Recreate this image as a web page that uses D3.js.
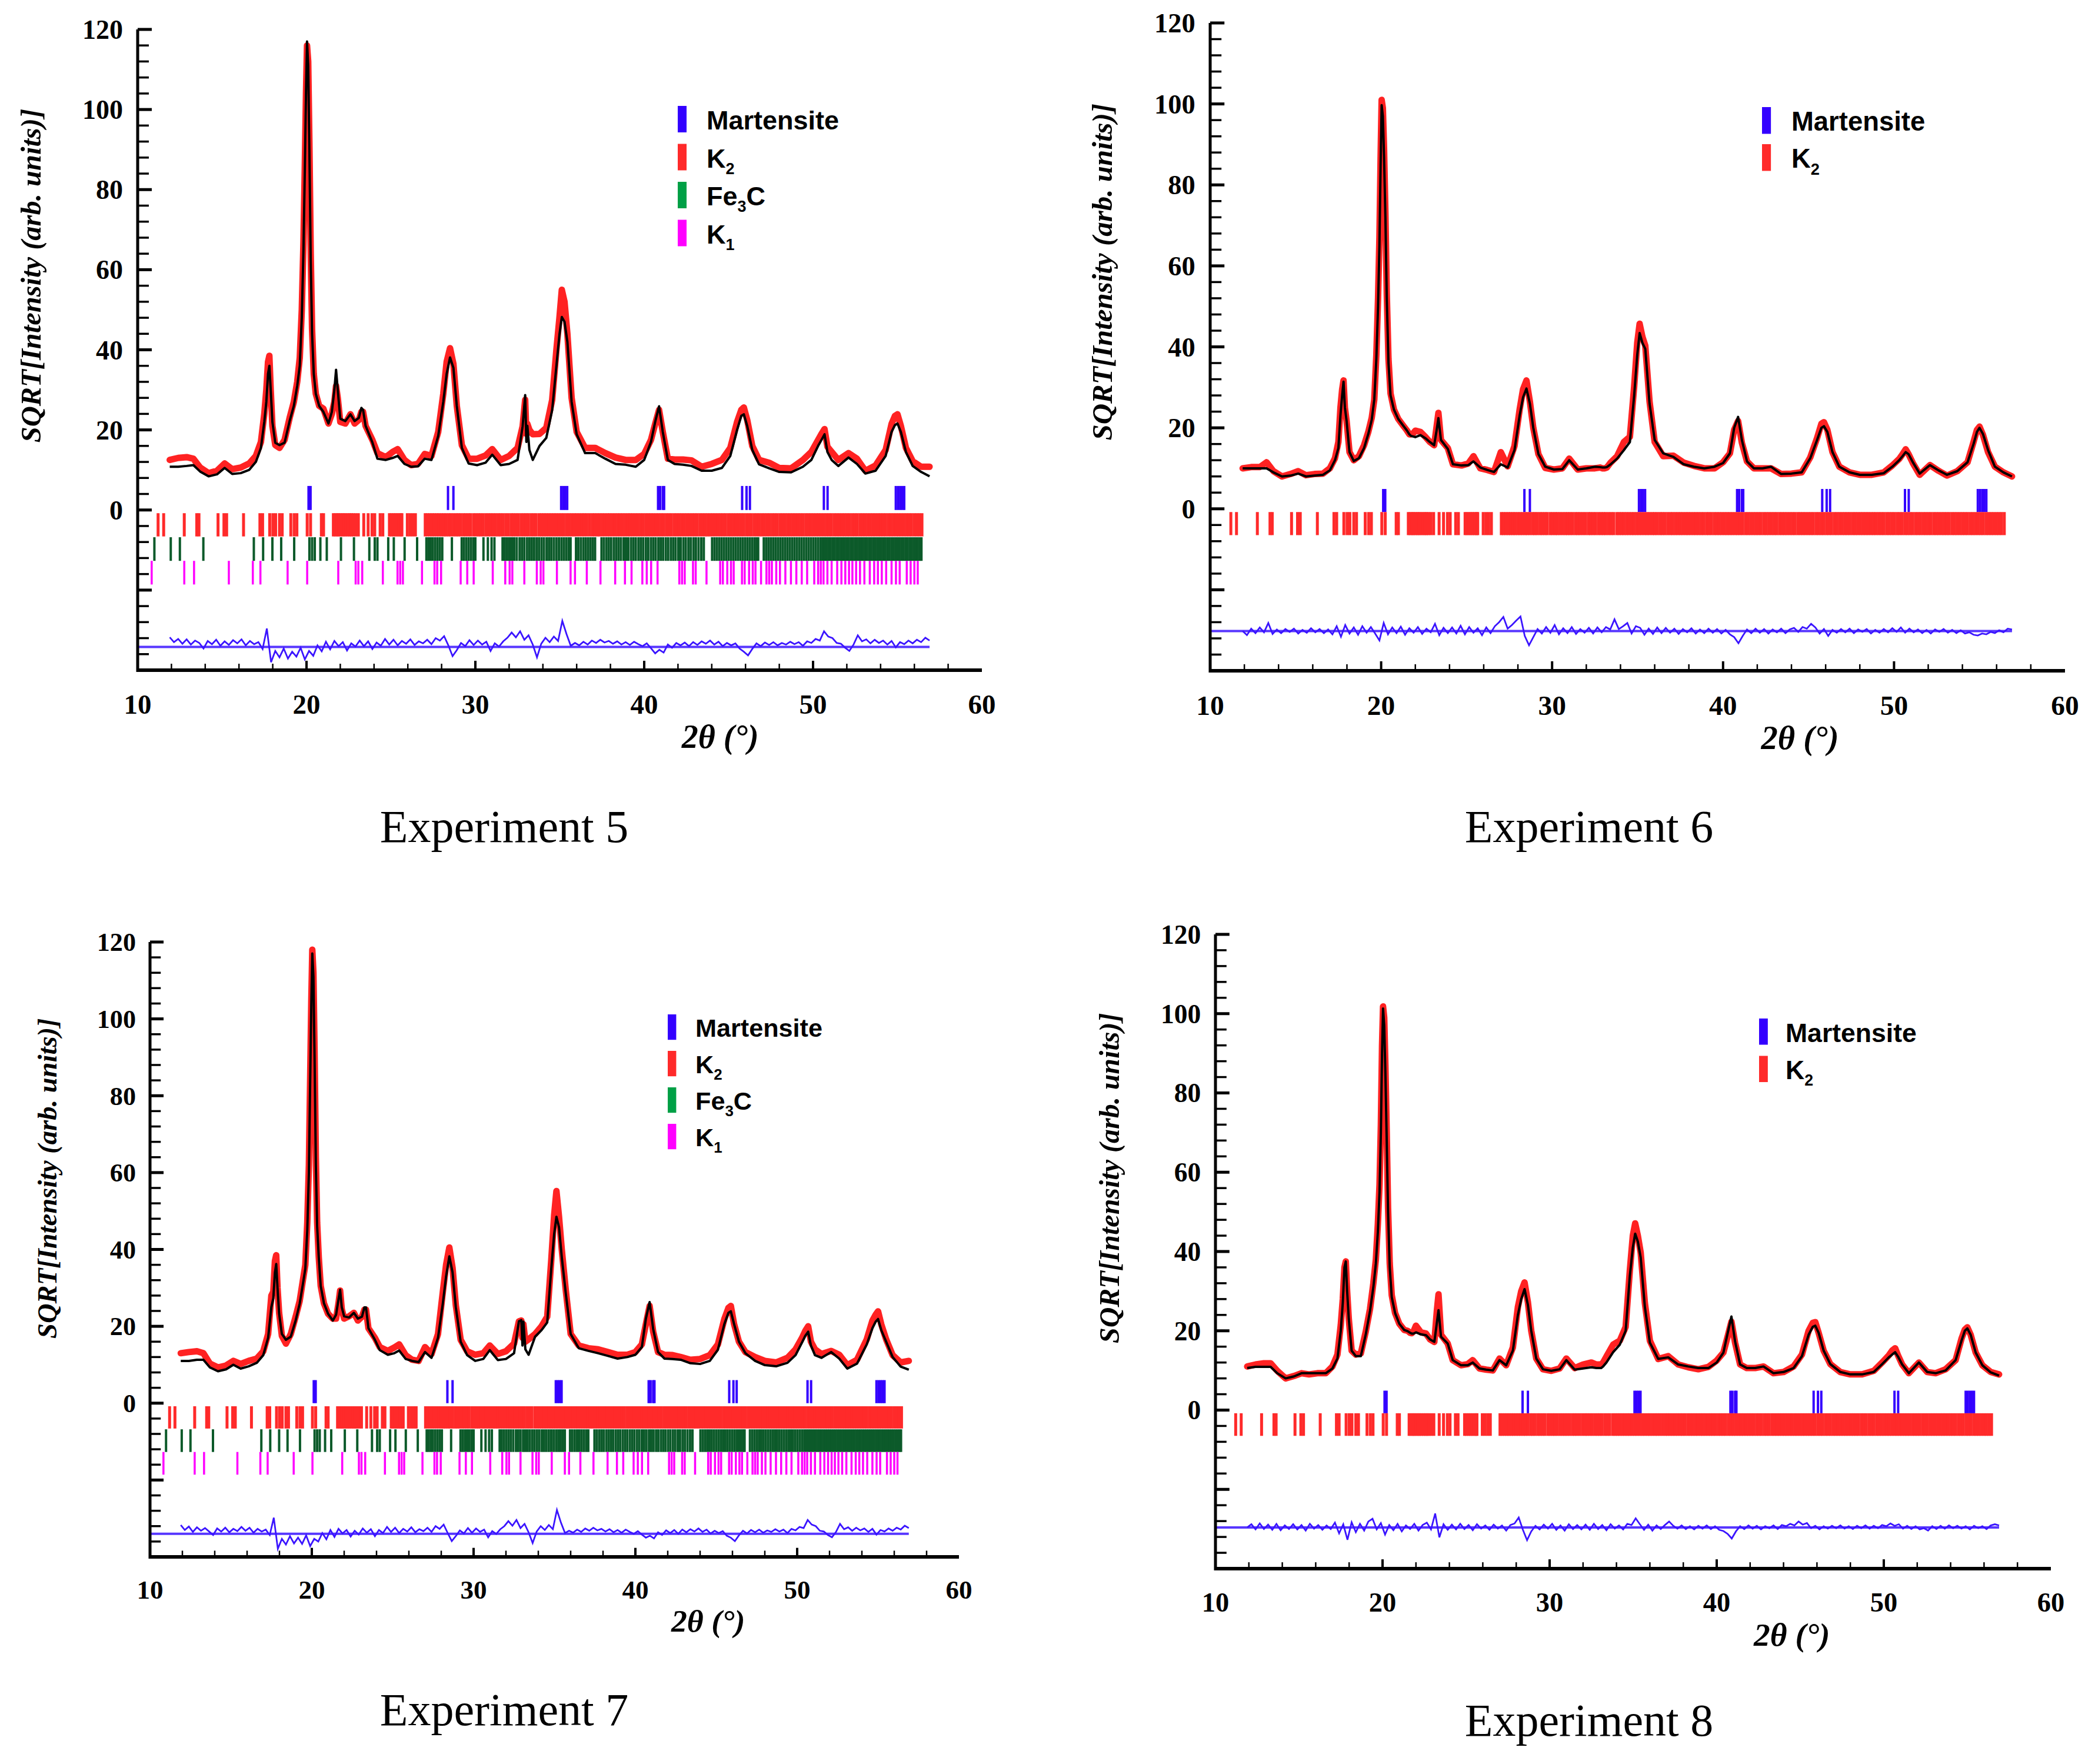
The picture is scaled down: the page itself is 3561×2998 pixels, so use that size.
<!DOCTYPE html>
<html>
<head>
<meta charset="utf-8">
<script src="https://cdn.jsdelivr.net/npm/d3@7"></script>
<style>
  body { margin: 0; background: #fff; }
  text { font-family: "Liberation Serif", "Times New Roman", serif; }
</style>
</head>
<body>
<svg id="fig"></svg>
<script>
// 2theta grid shared by the observed / calculated profiles
const twoTheta = [
  11.9, 12.4, 12.9, 13.3, 13.7, 14.2, 14.7, 15.15, 15.6, 16.1,
  16.6, 17.0, 17.3, 17.5, 17.62, 17.72, 17.8, 17.88, 17.98, 18.15,
  18.4, 18.7, 19.0, 19.25, 19.45, 19.6, 19.72, 19.82, 19.9, 19.97,
  20.03, 20.1, 20.17, 20.25, 20.33, 20.43, 20.55, 20.75, 21.0, 21.3,
  21.5, 21.65, 21.75, 21.85, 22.0, 22.3, 22.6, 22.85, 23.1, 23.25,
  23.35, 23.5, 23.9, 24.2, 24.7, 25.1, 25.4, 25.8, 26.2, 26.6,
  27.0, 27.4, 27.8, 28.1, 28.3, 28.5, 28.7, 28.9, 29.2, 29.6,
  30.1, 30.6, 31.0, 31.5, 32.0, 32.5, 32.8, 32.95, 33.02, 33.08,
  33.2, 33.4, 33.8, 34.2, 34.55, 34.8, 34.98, 35.12, 35.28, 35.45,
  35.7, 36.0, 36.5, 37.1, 37.7, 38.3, 38.9, 39.5, 40.0, 40.4,
  40.65, 40.88, 41.1, 41.4, 41.8, 42.3, 42.8, 43.4, 44.0, 44.6,
  45.1, 45.5, 45.75, 45.9, 46.1, 46.4, 46.8, 47.4, 48.0, 48.7,
  49.4, 49.9, 50.3, 50.5, 50.68, 50.85, 51.1, 51.5, 52.1, 52.6,
  53.1, 53.7, 54.3, 54.65, 54.85, 55.0, 55.2, 55.5, 55.9, 56.4,
  56.9
];

// Experiment 5
const calcExp5 = [
  10.8, 10.8, 11.0, 11.2, 9.6, 8.4, 8.9, 10.5, 9.0, 9.2,
  10.0, 12.0, 15.5, 22.0, 27.0, 34.0, 36.0, 30.0, 22.0, 16.8,
  16.2, 16.8, 22.2, 26.0, 31.0, 36.0, 48.0, 65.0, 85.0, 104.0,
  117.0, 111.0, 90.0, 62.0, 44.0, 34.0, 29.0, 26.0, 24.5, 21.6,
  24.5, 30.0, 35.0, 30.0, 22.8, 22.2, 23.9, 22.2, 23.0, 25.5,
  25.0, 21.0, 16.9, 12.8, 12.5, 13.0, 13.5, 11.5, 10.8, 10.9,
  12.8, 12.5, 18.5, 27.0, 34.0, 38.1, 35.5, 26.0, 15.5, 11.6,
  11.2, 11.8, 13.8, 11.2, 11.5, 12.5, 20.9, 28.7, 17.0, 21.0,
  15.0, 12.5, 16.0, 18.0, 25.0, 36.0, 43.8, 48.2, 47.0, 42.0,
  27.0, 18.9, 14.2, 14.2, 12.8, 11.5, 11.3, 10.8, 12.5, 17.0,
  22.0, 25.9, 19.5, 12.5, 11.5, 11.3, 11.0, 9.8, 9.8, 10.5,
  13.5, 20.0, 23.5, 23.9, 21.0, 15.0, 11.4, 10.4, 9.5, 9.4,
  10.8, 12.5, 16.0, 17.5, 18.9, 14.5, 12.5, 11.0, 13.1, 11.5,
  9.1, 9.8, 13.5, 19.5, 21.2, 21.6, 19.5, 14.5, 11.0, 9.5,
  8.4
];
const obsExp5 = [
  12.5, 13.0, 13.2, 12.8, 10.6, 9.2, 9.8, 11.6, 10.2, 10.6,
  11.6, 13.5, 17.0, 24.0, 30.0, 37.0, 38.5, 30.0, 21.0, 16.2,
  15.5, 17.5, 23.0, 27.0, 32.0, 38.0, 50.0, 67.0, 86.0, 104.0,
  116.0, 112.0, 92.0, 64.0, 45.0, 34.0, 29.0, 26.0, 25.3, 21.6,
  24.0, 27.0, 31.0, 28.0, 22.0, 21.6, 23.9, 21.6, 22.5, 24.5,
  24.5, 21.0, 17.5, 14.2, 13.2, 14.5, 15.2, 12.5, 11.2, 11.5,
  14.0, 13.5, 19.5, 29.0, 37.0, 40.4, 36.5, 26.0, 16.2, 12.8,
  12.8, 13.6, 15.2, 12.5, 13.5, 15.5, 20.9, 27.5, 19.0, 21.5,
  20.0, 18.9, 19.0, 20.5, 27.5, 40.0, 48.0, 55.0, 52.0, 44.0,
  28.0, 19.5, 15.5, 15.5, 14.2, 13.1, 12.5, 12.5, 14.0, 17.5,
  21.5, 25.0, 19.5, 12.8, 12.6, 12.6, 12.4, 10.8, 11.5, 12.5,
  15.5, 22.0, 25.0, 25.6, 22.5, 16.0, 12.5, 11.8, 10.5, 10.4,
  12.5, 14.5, 17.5, 19.0, 20.2, 15.8, 14.5, 12.5, 14.2, 12.8,
  9.8, 11.1, 15.0, 21.5, 23.5, 23.9, 21.0, 15.5, 12.2, 10.8,
  10.8
];

// Experiment 6
const calcExp6 = [
  10.0, 10.0, 10.0, 10.0, 9.0, 8.0, 8.2, 8.7, 8.0, 8.2,
  8.4, 9.5, 12.0, 15.0, 23.0, 28.0, 31.4, 25.0, 21.7, 14.0,
  11.8, 12.5, 15.0, 18.5, 22.0, 27.0, 37.0, 50.0, 65.0, 85.0,
  99.7, 97.0, 87.0, 72.0, 52.0, 36.0, 28.0, 24.5, 22.2, 20.5,
  19.4, 18.4, 18.0, 17.9, 17.7, 18.2, 17.4, 16.5, 15.7, 19.5,
  22.4, 17.0, 14.8, 11.0, 10.7, 10.8, 11.7, 10.2, 9.6, 9.1,
  11.0, 10.2, 14.5, 23.0, 27.5, 29.7, 26.0, 20.0, 13.5, 10.4,
  9.7, 9.8, 12.0, 9.7, 10.0, 10.4, 10.3, 10.2, 10.2, 10.2,
  10.3, 10.9, 12.4, 14.5, 16.5, 28.0, 38.0, 43.4, 41.0, 39.5,
  26.0, 17.0, 13.7, 12.8, 11.0, 10.4, 10.0, 10.4, 11.3, 13.7,
  20.0, 22.7, 17.0, 11.7, 10.0, 10.0, 10.4, 8.6, 8.7, 9.0,
  12.5, 17.0, 20.0, 20.4, 19.0, 14.0, 10.4, 9.0, 8.4, 8.4,
  8.8, 10.4, 12.0, 13.0, 14.0, 13.5, 11.5, 8.7, 10.8, 9.5,
  8.4, 9.3, 11.5, 16.0, 19.0, 20.0, 18.5, 14.5, 10.4, 9.0,
  8.0
];
const obsExp6 = [
  10.0, 10.3, 10.3, 11.5, 9.3, 8.0, 8.6, 9.3, 8.3, 8.6,
  8.7, 10.0, 12.5, 16.5, 25.0, 29.5, 31.7, 25.0, 21.7, 14.0,
  12.0, 13.0, 15.7, 19.0, 22.5, 27.0, 38.0, 52.0, 67.0, 87.0,
  101.0, 99.0, 89.0, 73.0, 53.0, 37.0, 28.5, 24.5, 22.2, 20.5,
  19.4, 18.4, 18.4, 18.5, 19.3, 19.0, 17.7, 16.5, 15.7, 20.5,
  23.7, 17.0, 15.0, 11.0, 10.7, 11.2, 13.0, 10.0, 9.6, 9.1,
  14.0, 10.5, 15.5, 24.5, 29.5, 31.7, 26.5, 20.0, 13.5, 10.1,
  9.7, 10.0, 12.4, 9.7, 10.0, 10.0, 10.2, 10.0, 10.0, 10.0,
  10.2, 11.3, 13.0, 16.5, 17.8, 30.2, 41.0, 45.7, 42.5, 40.3,
  26.5, 16.5, 13.0, 13.1, 11.4, 10.6, 10.0, 10.0, 11.5, 13.7,
  19.5, 21.7, 16.3, 11.7, 10.0, 10.0, 10.0, 8.6, 8.7, 9.0,
  12.7, 17.5, 21.0, 21.4, 19.5, 14.0, 10.4, 9.0, 8.4, 8.4,
  9.0, 10.7, 12.3, 13.5, 14.7, 13.5, 11.3, 8.4, 10.8, 9.4,
  8.2, 9.3, 11.5, 16.5, 19.5, 20.3, 18.3, 14.0, 10.4, 9.0,
  8.0
];

// Experiment 7
const calcExp7 = [
  11.0, 11.0, 11.3, 11.3, 9.3, 8.3, 8.8, 10.0, 9.0, 9.6,
  10.5, 12.5, 17.0, 25.0, 27.3, 34.0, 36.2, 30.0, 23.3, 18.0,
  16.5, 17.3, 21.5, 25.9, 31.0, 35.0, 45.0, 60.0, 84.0, 104.0,
  117.0, 111.0, 90.0, 62.0, 46.0, 38.0, 30.5, 26.0, 23.3, 21.5,
  23.0, 27.0, 29.5, 25.0, 22.6, 22.3, 23.5, 22.0, 22.5, 24.9,
  24.9, 19.5, 16.5, 13.8, 12.6, 13.0, 13.7, 11.5, 11.0, 10.7,
  13.3, 11.8, 17.0, 26.0, 33.0, 38.2, 34.0, 25.0, 16.0, 12.5,
  11.0, 11.5, 13.8, 11.2, 11.5, 13.0, 21.3, 21.6, 15.0, 21.2,
  14.0, 12.6, 17.3, 19.0, 21.0, 34.9, 44.0, 48.5, 45.8, 38.0,
  28.5, 18.0, 14.3, 13.6, 13.0, 12.3, 11.6, 12.0, 12.6, 14.6,
  22.0, 26.3, 19.3, 13.3, 11.6, 11.5, 11.3, 10.4, 10.2, 11.0,
  13.9, 20.6, 23.5, 23.9, 20.6, 16.0, 13.0, 11.0, 9.9, 9.6,
  10.5, 12.5, 15.8, 17.5, 18.6, 15.0, 12.5, 11.8, 13.3, 11.6,
  9.0, 10.3, 15.3, 19.5, 21.2, 21.9, 19.0, 16.0, 12.0, 9.5,
  8.7
];
const obsExp7 = [
  13.0, 13.3, 13.5, 13.0, 10.3, 9.3, 9.8, 11.0, 10.2, 11.0,
  11.6, 13.5, 18.0, 28.0, 29.0, 37.0, 38.5, 30.0, 23.5, 17.5,
  15.5, 18.0, 22.5, 26.6, 32.0, 36.0, 47.0, 62.0, 85.0, 105.0,
  118.0, 112.0, 92.0, 64.0, 47.0, 38.0, 30.5, 26.0, 23.3, 22.0,
  22.0, 26.0, 29.3, 24.5, 22.0, 22.6, 23.5, 21.5, 22.5, 24.3,
  24.3, 19.5, 17.0, 14.6, 13.6, 14.5, 15.3, 12.5, 11.3, 11.0,
  14.6, 12.8, 18.0, 29.0, 36.0, 40.5, 35.2, 25.5, 16.5, 13.5,
  12.6, 13.0, 15.0, 12.8, 13.5, 15.5, 21.3, 21.5, 17.0, 20.5,
  16.0, 16.6, 18.0, 20.0, 22.5, 37.2, 49.0, 55.2, 48.5, 40.0,
  29.3, 18.0, 15.0, 14.3, 14.0, 13.3, 12.6, 12.6, 13.3, 15.3,
  20.6, 25.3, 18.6, 13.3, 12.6, 12.5, 12.0, 11.3, 11.5, 12.5,
  15.3, 21.9, 24.8, 25.3, 20.6, 16.0, 13.3, 12.0, 11.0, 10.6,
  11.8, 14.0, 17.0, 18.8, 20.0, 16.0, 14.0, 12.8, 13.6, 12.6,
  9.9, 11.3, 16.6, 21.5, 23.0, 23.9, 20.5, 16.6, 12.5, 10.6,
  11.0
];

// Experiment 8
const calcExp8 = [
  10.6, 10.9, 10.9, 10.9, 9.3, 8.0, 8.5, 9.3, 9.3, 9.3,
  9.3, 10.5, 13.0, 20.0, 27.0, 36.0, 37.5, 30.0, 23.0, 15.0,
  13.6, 13.6, 19.2, 25.0, 31.0, 37.0, 45.0, 55.0, 70.0, 90.0,
  101.3, 97.0, 85.0, 68.0, 50.0, 36.0, 28.5, 24.5, 21.8, 20.2,
  19.9, 19.5, 19.3, 19.3, 19.6, 19.1, 18.9, 17.8, 17.2, 22.0,
  25.2, 18.5, 16.8, 12.6, 11.3, 11.3, 12.0, 10.5, 10.2, 10.0,
  12.6, 11.3, 15.0, 24.0, 28.0, 30.5, 26.5, 20.0, 13.0, 10.3,
  9.9, 10.3, 12.6, 10.2, 10.5, 10.8, 10.6, 10.6, 10.6, 10.6,
  11.0, 12.0, 14.6, 16.5, 20.0, 33.8, 41.0, 44.5, 42.5, 38.5,
  26.0, 17.0, 12.9, 13.3, 11.5, 11.0, 10.6, 10.6, 12.0, 14.5,
  19.3, 23.6, 17.3, 11.5, 10.6, 10.6, 11.0, 9.3, 9.6, 10.6,
  13.6, 19.0, 21.0, 21.3, 19.5, 15.0, 11.6, 9.6, 9.0, 9.0,
  9.6, 11.6, 13.3, 14.0, 14.6, 13.5, 11.5, 9.3, 12.0, 9.6,
  9.3, 10.0, 12.6, 17.5, 20.0, 20.6, 19.0, 14.5, 11.3, 9.5,
  8.7
];
const obsExp8 = [
  11.0, 11.5, 11.8, 11.8, 9.9, 8.0, 8.6, 9.3, 9.0, 9.3,
  9.3, 11.0, 14.0, 21.5, 28.0, 36.0, 37.5, 30.0, 23.0, 15.0,
  14.0, 14.3, 19.9, 25.5, 32.0, 38.0, 47.0, 57.0, 72.0, 92.0,
  101.8, 99.0, 87.0, 70.0, 51.0, 37.0, 29.0, 24.5, 21.8, 20.2,
  20.0, 19.5, 19.4, 19.8, 21.3, 19.6, 19.3, 17.8, 17.2, 25.0,
  29.2, 19.0, 16.8, 12.6, 11.3, 11.6, 12.6, 10.5, 10.2, 10.0,
  13.0, 11.3, 15.8, 26.0, 30.0, 32.2, 27.2, 20.0, 13.0, 10.3,
  9.9, 10.5, 13.0, 10.6, 11.5, 12.0, 11.5, 11.5, 11.5, 11.5,
  12.0, 13.5, 16.5, 17.5, 21.0, 35.2, 44.0, 47.1, 44.0, 39.7,
  27.0, 17.5, 12.9, 13.6, 11.5, 10.8, 10.3, 10.9, 12.5, 14.5,
  18.5, 22.3, 17.0, 11.5, 10.6, 10.6, 11.0, 9.3, 9.6, 11.0,
  14.0, 20.0, 22.0, 22.2, 19.5, 15.0, 11.6, 9.6, 9.0, 9.0,
  9.9, 12.0, 13.8, 15.0, 15.6, 13.8, 11.5, 9.3, 12.0, 9.6,
  9.3, 10.3, 12.6, 18.0, 20.3, 20.9, 19.0, 14.5, 11.3, 9.6,
  9.0
];

// difference curves (obs - calc), sampled every 0.25 deg from 11.9 deg
const diffStart = 11.9, diffStep = 0.25;
const diffExp5 = [
  2.4, 1.2, 2.0, 0.8, 1.9, 0.6, 1.6, 1.0, -0.4, 1.5,
  0.7, 1.8, 0.3, 1.4, 0.5, 1.7, 0.9, 1.9, 0.4, 1.5,
  0.7, 1.2, -0.5, 4.6, -3.8, -1.0, -2.6, -0.4, -2.9, -1.2,
  -2.4, -0.2, -3.1, -1.0, -2.2, 0.4, -1.1, 1.3, -0.6, 1.5,
  0.2, 1.2, -0.9, 0.9, 0.1, 1.6, 0.2, 1.4, -0.5, 1.1,
  0.3, 2.0, 0.6, 1.8, 0.4, 1.5, 0.8, 1.9, 0.5, 1.4,
  0.9, 1.8, 0.7, 2.2, 1.6, 2.7, 0.4, -2.3, -0.8, 1.0,
  0.2, 1.7, 0.5, 1.6, 0.6, 1.3, -1.0, 0.9, 0.1, 1.4,
  2.3, 3.6, 2.4, 3.9, 1.8, 2.9, 0.6, -2.6, 0.8, 2.3,
  1.2, 2.6, 1.5, 6.5, 3.2, 0.3, 1.0, 0.4, 1.3, 0.6,
  1.6, 1.0, 1.8, 1.1, 1.5, 0.8, 1.4, 0.6, 1.2, 0.5,
  1.3, 0.7, 0.2, 0.9, -0.3, -1.6, -0.7, -1.4, 0.6, -0.2,
  1.0, 0.4, 1.1, 0.2, 1.2, 0.5, 1.4, 0.8, 1.6, 0.6,
  1.3, 0.2, 1.0, 0.4, 0.9, -0.4, -1.2, -2.1, -0.5, 0.9,
  0.2, 1.1, 0.5, 1.2, 0.4, 1.0, 0.6, 1.3, 0.7, 1.2,
  0.3, 1.4, 1.0, 2.0, 1.6, 3.9, 2.6, 2.2, 1.0, 0.8,
  -0.2, -1.0, 0.6, 2.9, 1.4, 1.9, 0.9, 1.8, 1.0, 1.6,
  0.6, 1.5, -0.1, 1.2, 0.7, 1.6, 0.9, 1.8, 1.2, 2.3,
  1.6
];
const diffExp6 = [
  0.0, -1.0, 0.6, -0.5, 0.9, -0.3, 2.0, -0.7, 0.4, -0.5,
  0.5, -0.2, 0.6, -0.6, 0.3, -0.4, 0.7, -0.3, 0.5, -0.5,
  0.4, -0.8, 1.2, -1.4, 1.5, -0.6, 0.9, -0.9, 1.2, -0.4,
  1.0, -0.6, -2.3, 2.0, -0.8, 0.9, -0.5, 1.1, -0.9, 0.7,
  -0.4, 1.0, -0.7, 0.6, -0.3, 1.8, -1.0, 0.8, -0.5, 0.9,
  -0.6, 1.3, -0.8, 1.0, -0.4, 0.7, -1.0, 0.9, -0.5, 1.2,
  2.2, 3.5, 0.6, 1.5, 2.6, 3.6, -1.2, -3.5, -1.5, 0.5,
  -0.6, 1.0, -0.4, 1.5, -0.8, 0.7, -0.5, 1.0, -0.7, 0.5,
  -0.4, 0.8, -0.6, 0.9, -0.3, 1.0, 0.4, 2.9, 0.5, 1.2,
  2.0, -0.6, 1.2, 0.8, -0.9, 0.6, -0.7, 0.9, -0.5, 0.8,
  -0.4, 0.6, -0.7, 0.5, -0.3, 0.7, -0.6, 0.4, -0.5, 0.6,
  -0.4, 0.5, -0.6, 0.3, -0.8, -1.5, -3.0, -1.2, 0.4, -0.5,
  0.6, -0.4, 0.5, -0.6, 0.4, -0.3, 0.6, -0.5, 0.4, 0.8,
  -0.2, 1.0, 0.6, 1.8, 0.9, -0.6, 0.5, -1.2, 0.3, -0.4,
  0.5, -0.3, 0.6, -0.5, 0.4, -0.2, 0.5, -0.6, 0.3, -0.4,
  0.5, -0.3, 0.7, -0.2, 0.9, -0.4, 0.6, -0.3, 0.4, -0.5,
  0.3, -0.6, 0.4, -0.2, 0.5, -0.4, 0.3, -0.5, 0.2, -0.6,
  -0.3, -0.9, -1.1, -0.6, -0.8, -0.2, -0.5, 0.2, -0.3, 0.6,
  0.4
];
const diffExp7 = [
  2.3, 1.0, 1.9, 0.5, 1.7, 0.8, 1.5, 0.6, -0.3, 1.4,
  0.6, 1.6, 0.4, 1.3, 0.7, 1.8, 0.8, 1.6, 0.3, 1.3,
  0.6, 1.1, -0.3, 4.2, -3.9, -1.3, -2.8, -0.6, -2.5, -1.0,
  -2.6, -0.4, -3.2, -1.3, -2.0, 0.2, -1.4, 1.0, -0.8, 1.3,
  0.1, 1.0, -0.7, 0.8, -0.2, 1.4, 0.3, 1.2, -0.6, 1.0,
  0.2, 1.8, 0.5, 1.6, 0.2, 1.3, 0.6, 1.7, 0.4, 1.2,
  0.7, 1.6, 0.5, 2.0, 1.3, 2.4, 0.2, -1.9, -0.6, 0.9,
  0.1, 1.5, 0.3, 1.4, 0.5, 1.1, -0.9, 0.7, 0.0, 1.2,
  2.0, 3.3, 2.1, 3.6, 1.5, 2.6, 0.4, -2.4, 0.6, 2.0,
  1.0, 2.3, 1.2, 6.2, 2.9, 0.2, 0.8, 0.3, 1.1, 0.5,
  1.4, 0.8, 1.6, 0.9, 1.3, 0.6, 1.2, 0.4, 1.0, 0.3,
  1.1, 0.5, 0.0, 0.7, -0.2, -1.0, -0.5, -1.2, 0.4, -0.3,
  0.9, 0.2, 1.0, 0.0, 1.1, 0.4, 1.2, 0.6, 1.4, 0.5,
  1.1, 0.1, 0.8, 0.2, 0.7, -0.5, -1.0, -1.9, -0.4, 0.8,
  0.1, 1.0, 0.4, 1.1, 0.3, 0.9, 0.5, 1.2, 0.6, 1.1,
  0.2, 1.3, 0.9, 1.8, 1.5, 3.6, 2.4, 2.0, 0.8, 0.6,
  -0.3, -0.9, 0.5, 2.6, 1.2, 1.7, 0.8, 1.6, 0.9, 1.4,
  0.5, 1.3, -0.2, 1.0, 0.6, 1.4, 0.8, 1.6, 1.1, 2.1,
  1.5
];
const diffExp8 = [
  0.0, 0.8, -0.5, 1.0, -0.4, 0.7, -0.6, 0.9, -0.7, 0.5,
  -0.4, 0.8, -0.5, 0.6, -0.8, 0.9, -0.3, 0.6, -0.6, 0.5,
  -0.4, 1.2, -1.5, 0.8, -3.1, 1.3, -1.2, 0.9, -0.8, 1.5,
  2.2, -0.5, 1.1, -1.8, 0.6, -0.7, 0.9, -1.0, 0.5, -0.4,
  0.9, -0.8, 0.6, 1.2, -0.5, 3.5, -2.5, 0.8, -0.6, 0.7,
  -0.5, 0.9, -0.4, 0.6, -0.7, 0.8, -0.3, 0.5, -0.6, 0.7,
  -0.3, 0.5, -0.8, 0.6, 1.0, 2.5, -0.6, -3.2, -1.0, 0.4,
  -0.5, 0.7, -0.3, 0.9, -0.6, 0.5, -0.8, 0.8, -0.4, 0.6,
  -0.5, 0.7, -0.6, 0.9, -0.4, 0.6, -0.7, 0.8, -0.3, 0.5,
  -0.5, 0.9, 0.6, 2.3, 0.8, -0.6, 0.7, -0.8, 0.5, -0.4,
  0.6, 1.5, 0.4, -0.3, 0.5, -0.4, 0.3, -0.5, 0.4, -0.3,
  0.5, -0.4, 0.3, -0.6, -0.9, -1.6, -2.8, -1.0, 0.3, -0.4,
  0.5, -0.3, 0.4, -0.5, 0.3, -0.2, 0.5, -0.4, 0.6, 0.3,
  0.9, 0.5, 1.5, 0.7, 1.1, -0.2, 0.4, -0.5, 0.3, -0.3,
  0.4, -0.2, 0.5, -0.3, 0.3, -0.4, 0.4, -0.2, 0.5, -0.3,
  0.4, -0.2, 0.6, 0.3, 1.0, 0.4, 0.8, -0.3, 0.4, -0.4,
  0.3, -0.5, -0.2, -0.8, 0.3, -0.4, 0.4, -0.3, 0.5, -0.2,
  0.4, -0.3, 0.3, -0.5, 0.4, -0.2, 0.3, -0.4, 0.5, 0.8,
  0.5
];

// Bragg reflection positions (2theta) of each phase
const martensiteRefl = [20.12, 20.24, 28.38, 28.70, 35.08, 35.20, 35.32, 35.44, 40.82, 40.94, 41.10, 41.18,
  45.80, 46.06, 46.26, 50.64, 50.86, 54.90, 55.03, 55.16, 55.28, 55.40];
const k2Refl = [11.21, 11.54, 12.76, 13.50, 13.63, 14.76, 15.11, 15.27, 16.27, 17.24, 17.40, 17.82, 18.01,
  18.17, 18.40, 18.56, 19.07, 19.27, 19.43, 20.04, 20.24, 20.88, 21.01, 21.59, 21.70, 21.81, 21.90, 22.01,
  22.12, 22.22, 22.33, 22.45, 22.56, 22.66, 22.77, 22.91, 23.07, 23.39, 23.65, 23.88, 24.04, 24.36, 24.52,
  24.91, 25.02, 25.14, 25.25, 25.36, 25.47, 25.58, 25.65, 25.97, 26.13, 26.29, 26.45,
  27.03, 27.16, 27.30, 27.44, 27.57, 27.71, 27.84, 27.99, 28.13, 28.27, 28.42, 28.55, 28.70, 28.86, 28.99,
  29.13, 29.29, 29.43, 29.58, 29.72, 29.89, 30.03, 30.18, 30.31, 30.46, 30.62, 30.77, 30.91, 31.05, 31.20,
  31.36, 31.50, 31.64, 31.80, 31.96, 32.12, 32.25, 32.40, 32.55, 32.71, 32.86, 33.00, 33.14, 33.30, 33.45,
  33.60, 33.78, 33.92, 34.06, 34.20, 34.35, 34.50, 34.65, 34.79, 34.94, 35.09, 35.24, 35.40, 35.55, 35.70,
  35.86, 36.00, 36.15, 36.31, 36.45, 36.60, 36.76, 36.92, 37.06, 37.21, 37.36, 37.51, 37.66, 37.82, 37.96,
  38.11, 38.27, 38.42, 38.57, 38.72, 38.87, 39.03, 39.17, 39.32, 39.48, 39.63, 39.78, 39.93, 40.09, 40.24,
  40.39, 40.54, 40.70, 40.85, 41.00, 41.15, 41.31, 41.46, 41.61, 41.77, 41.92, 42.07, 42.22, 42.38, 42.53,
  42.68, 42.84, 42.99, 43.14, 43.30, 43.45, 43.60, 43.75, 43.91, 44.06, 44.21, 44.37, 44.52, 44.67, 44.82,
  44.98, 45.13, 45.28, 45.44, 45.59, 45.74, 45.89, 46.05, 46.20, 46.35, 46.51, 46.66, 46.81, 46.97, 47.12,
  47.27, 47.42, 47.58, 47.73, 47.88, 48.04, 48.19, 48.34, 48.49, 48.65, 48.80, 48.95, 49.11, 49.26, 49.41,
  49.57, 49.72, 49.87, 50.02, 50.18, 50.33, 50.48, 50.64, 50.79, 50.94, 51.09, 51.25, 51.40, 51.55, 51.71,
  51.86, 52.01, 52.16, 52.32, 52.47, 52.62, 52.78, 52.93, 53.08, 53.23, 53.39, 53.54, 53.69, 53.85, 54.00,
  54.15, 54.30, 54.46, 54.61, 54.76, 54.92, 55.07, 55.22, 55.38, 55.53, 55.68, 55.83, 55.99, 56.14, 56.29,
  56.45];
const fe3cRefl = [10.99, 11.96, 12.50, 13.89, 16.88, 17.43, 17.98, 18.50, 19.27, 20.17, 20.33, 20.49, 20.82,
  21.20, 22.04, 22.81, 23.72, 24.04, 24.20, 24.84, 25.17, 25.81, 26.55,
  27.10, 27.22, 27.35, 27.48, 27.62, 27.76, 27.90, 28.04, 28.61,
  29.19, 29.32, 29.46, 29.60, 29.74, 29.88, 30.00, 30.48, 30.74, 30.96, 31.13,
  31.61, 31.74, 31.88, 32.02, 32.16, 32.30, 32.45, 32.62, 32.76, 32.90, 33.06, 33.20, 33.34, 33.48, 33.63,
  33.77, 33.92, 34.06, 34.22, 34.36, 34.50, 34.65, 34.80, 34.95, 35.10, 35.24, 35.38, 35.52, 35.64,
  35.96, 36.10, 36.25, 36.40, 36.54, 36.68, 36.82, 36.96, 37.09,
  37.47, 37.61, 37.76, 37.90, 38.04, 38.20, 38.34, 38.48, 38.62, 38.78, 38.92, 39.06, 39.22, 39.36, 39.50,
  39.66, 39.80, 39.94, 40.10, 40.24, 40.40, 40.54, 40.68, 40.84, 40.98, 41.12, 41.28, 41.42, 41.58, 41.72,
  41.86, 42.02, 42.16, 42.32, 42.46, 42.62, 42.76, 42.92, 43.06, 43.22, 43.38, 43.53,
  44.02, 44.16, 44.30, 44.44, 44.58, 44.72, 44.86, 45.00, 45.14, 45.28, 45.42, 45.56, 45.70, 45.84, 45.98,
  46.12, 46.26, 46.40, 46.54, 46.66, 46.75,
  47.08, 47.22, 47.36, 47.50, 47.64, 47.78, 47.92, 48.06, 48.20, 48.34, 48.48, 48.62, 48.76, 48.90, 49.04,
  49.18, 49.32, 49.46, 49.60, 49.74, 49.88, 50.02, 50.16, 50.30, 50.44, 50.56, 50.68, 50.80, 50.92, 51.04,
  51.16, 51.28, 51.40, 51.52, 51.64, 51.76, 51.88, 52.00, 52.12, 52.24, 52.36, 52.48, 52.60, 52.72, 52.84,
  52.96, 53.08, 53.20, 53.32, 53.44, 53.56, 53.68, 53.80, 53.92, 54.04, 54.16, 54.28, 54.40, 54.52, 54.64,
  54.76, 54.88, 55.00, 55.12, 55.24, 55.36, 55.48, 55.60, 55.72, 55.84, 55.96, 56.08, 56.20, 56.32, 56.42];
const k1Refl = [10.83, 12.76, 13.34, 15.40, 16.82, 17.27, 18.88, 20.04, 21.88, 22.91, 23.07, 23.30, 24.52,
  25.39, 25.55, 25.71, 26.84, 27.58, 27.74, 27.97, 29.13, 29.52, 29.90, 31.03, 31.77, 32.03, 32.19, 32.90,
  33.64, 33.87, 34.03, 34.83, 35.64, 35.90, 36.60, 37.41, 38.28, 38.86, 39.25, 39.89, 40.15, 40.41, 40.79,
  42.08, 42.24, 42.40, 42.89, 43.05, 43.69, 44.50, 44.66, 44.92, 45.14, 45.30, 45.79, 45.95, 46.21, 46.43,
  46.59, 46.92, 47.24, 47.40, 47.56, 47.82, 48.04, 48.36, 48.69, 49.01, 49.33, 49.65, 50.07, 50.30, 50.46,
  50.62, 50.85, 51.10, 51.43, 51.68, 51.91, 52.13, 52.33, 52.55, 52.78, 53.04, 53.36, 53.62, 53.84, 54.07,
  54.33, 54.65, 54.91, 55.13, 55.55, 55.78, 56.00, 56.20];

const yTickLabels = [0, 20, 40, 60, 80, 100, 120];
const xTickLabels = [10, 20, 30, 40, 50, 60];

const col = {
  obs: "#ff2222", calc: "#000", diff: "#3a14ff",
  mart: "#3300ff", k2: "#ff2a2a", fe3c: "#0c5a2a", fe3cKey: "#00a046", k1: "#ff00ff"
};

const fourPhases = [
  { key: "mart", refl: martensiteRefl, band: [0, 6], w: 4, label: [["Martensite"]] },
  { key: "k2", refl: k2Refl, band: [-6.6, -0.8], w: 5, label: [["K"], ["2", 1]] },
  { key: "fe3c", refl: fe3cRefl, band: [-12.7, -6.8], w: 4, label: [["Fe"], ["3", 1], ["C"]] },
  { key: "k1", refl: k1Refl, band: [-18.6, -12.7], w: 3.5, label: [["K"], ["1", 1]] }
];
const twoPhases = [
  { key: "mart", refl: martensiteRefl, band: [-0.8, 4.9], w: 4, label: [["Martensite"]] },
  { key: "k2", refl: k2Refl, band: [-6.5, -0.8], w: 5, label: [["K"], ["2", 1]] }
];

const panels = [
  { title: "Experiment 5", obs: obsExp5, calc: calcExp5, diff: diffExp5, diffBase: -34.2, phases: fourPhases,
    xr: [234, 1669], yr: [1139, 50], k: 1.0, key: { bx: 1152, tx: 1201, top: 180, step: 64.5 }, tpos: [857, 1431] },
  { title: "Experiment 6", obs: obsExp6, calc: calcExp6, diff: diffExp6, diffBase: -30.2, phases: twoPhases,
    xr: [2057, 3510], yr: [1140, 39], k: 1.01, key: { bx: 2995, tx: 3045, top: 182, step: 63 }, tpos: [2701, 1431] },
  { title: "Experiment 7", obs: obsExp7, calc: calcExp7, diff: diffExp7, diffBase: -34, phases: fourPhases,
    xr: [255, 1630], yr: [2646, 1601], k: 0.96, key: { bx: 1135, tx: 1182, top: 1724, step: 62 }, tpos: [857, 2932] },
  { title: "Experiment 8", obs: obsExp8, calc: calcExp8, diff: diffExp8, diffBase: -29.6, phases: twoPhases,
    xr: [2066, 3486], yr: [2666, 1588], k: 0.99, key: { bx: 2990, tx: 3035, top: 1731, step: 63.5 }, tpos: [2701, 2950] }
];

const W = 3561, H = 2998;
const svg = d3.select("#fig").attr("width", W).attr("height", H).attr("viewBox", `0 0 ${W} ${H}`);
svg.append("rect").attr("width", W).attr("height", H).attr("fill", "#fff");

panels.forEach(p => {
  if (p.obs.length !== twoTheta.length || p.calc.length !== twoTheta.length) console.warn("length mismatch", p.title);
  drawPanel(p);
});

function drawPanel(p) {
  const x = d3.scaleLinear().domain([10, 60]).range(p.xr);
  const y = d3.scaleLinear().domain([-40, 120]).range(p.yr);
  const g = svg.append("g");
  const k = p.k;
  const serif = "'Liberation Serif', 'Times New Roman', serif";

  // reflection markers
  p.phases.forEach(ph => {
    g.append("g").selectAll("line").data(ph.refl).join("line")
      .attr("x1", d => x(d)).attr("x2", d => x(d))
      .attr("y1", y(ph.band[1])).attr("y2", y(ph.band[0]))
      .attr("stroke", col[ph.key]).attr("stroke-width", ph.w);
  });

  // difference curve and its zero line
  g.append("line")
    .attr("x1", x(10)).attr("x2", x(56.9))
    .attr("y1", y(p.diffBase)).attr("y2", y(p.diffBase))
    .attr("stroke", col.diff).attr("stroke-width", 4).attr("opacity", 0.85);
  g.append("path")
    .datum(p.diff)
    .attr("fill", "none").attr("stroke", col.diff).attr("stroke-width", 2.8)
    .attr("d", d3.line().x((d, i) => x(diffStart + i * diffStep)).y(d => y(p.diffBase + d)));

  // observed (red) and calculated (black) profiles
  const prof = arr => arr.map((v, i) => [twoTheta[i], v]);
  const line = d3.line().x(d => x(d[0])).y(d => y(d[1]));
  g.append("path").datum(prof(p.obs))
    .attr("fill", "none").attr("stroke", col.obs).attr("stroke-width", 11)
    .attr("stroke-linejoin", "round").attr("stroke-linecap", "round")
    .attr("d", line);
  g.append("path").datum(prof(p.calc))
    .attr("fill", "none").attr("stroke", col.calc).attr("stroke-width", 4)
    .attr("stroke-linejoin", "round")
    .attr("d", line);

  // axes
  const x0 = x(10), yb = y(-40);
  g.append("line").attr("x1", x0).attr("x2", x0).attr("y1", yb + 3).attr("y2", y(120))
    .attr("stroke", "#000").attr("stroke-width", 5);
  g.append("line").attr("x1", x0 - 2).attr("x2", x(60)).attr("y1", yb).attr("y2", yb)
    .attr("stroke", "#000").attr("stroke-width", 6);

  const yTicks = d3.range(-36, 121, 4);
  g.append("g").selectAll("line").data(yTicks).join("line")
    .attr("x1", x0).attr("x2", d => x0 + (d % 20 === 0 ? 24 : 19) * k)
    .attr("y1", d => y(d)).attr("y2", d => y(d))
    .attr("stroke", "#000").attr("stroke-width", d => d % 20 === 0 ? 5 : 3.5);
  const xTicks = d3.range(12, 59, 2);
  g.append("g").selectAll("line").data(xTicks).join("line")
    .attr("x1", d => x(d)).attr("x2", d => x(d))
    .attr("y1", yb).attr("y2", d => yb - (d % 10 === 0 ? 16 : 11) * k)
    .attr("stroke", "#000").attr("stroke-width", d => d % 10 === 0 ? 4 : 2.5);

  g.append("g").selectAll("text").data(yTickLabels).join("text")
    .attr("x", x0 - 25 * k).attr("y", d => y(d) + 16 * k)
    .attr("text-anchor", "end").attr("font-family", serif)
    .attr("font-weight", "bold").attr("font-size", 46 * k)
    .text(d => d);
  g.append("g").selectAll("text").data(xTickLabels).join("text")
    .attr("x", d => x(d)).attr("y", yb + 74 * k)
    .attr("text-anchor", "middle").attr("font-family", serif)
    .attr("font-weight", "bold").attr("font-size", 47 * k)
    .text(d => d);

  g.append("text")
    .attr("transform", `translate(${x0 - 182 * k},${y(58.5)}) rotate(-90)`)
    .attr("text-anchor", "middle").attr("dominant-baseline", "central").attr("font-family", serif)
    .attr("font-weight", "bold").attr("font-style", "italic").attr("font-size", 48.5 * k)
    .text("SQRT[Intensity (arb. units)]");
  g.append("text")
    .attr("x", x(44.5)).attr("y", yb + 132 * k)
    .attr("text-anchor", "middle").attr("font-family", serif)
    .attr("font-weight", "bold").attr("font-style", "italic")
    .attr("font-size", 56 * k)
    .text("2θ (°)");

  // legend
  p.phases.forEach((ph, i) => {
    const top = p.key.top + i * p.key.step;
    g.append("rect").attr("x", p.key.bx).attr("y", top).attr("width", 15 * k).attr("height", 45 * k)
      .attr("fill", ph.key === "fe3c" ? col.fe3cKey : col[ph.key]);
    const t = g.append("text").attr("x", p.key.tx).attr("y", top + 40 * k)
      .style("font-family", "'Liberation Sans', Arial, sans-serif")
      .attr("font-weight", "bold").attr("font-size", 45 * k);
    let shifted = false;
    ph.label.forEach(([s, sub]) => {
      const ts = t.append("tspan").text(s);
      if (sub) { ts.attr("font-size", 27 * k).attr("dy", 11 * k); shifted = true; }
      else if (shifted) { ts.attr("dy", -11 * k); shifted = false; }
    });
  });

  // caption
  svg.append("text")
    .attr("x", p.tpos[0]).attr("y", p.tpos[1])
    .attr("text-anchor", "middle").attr("font-family", serif).attr("font-size", 78)
    .text(p.title);
}
</script>
</body>
</html>
